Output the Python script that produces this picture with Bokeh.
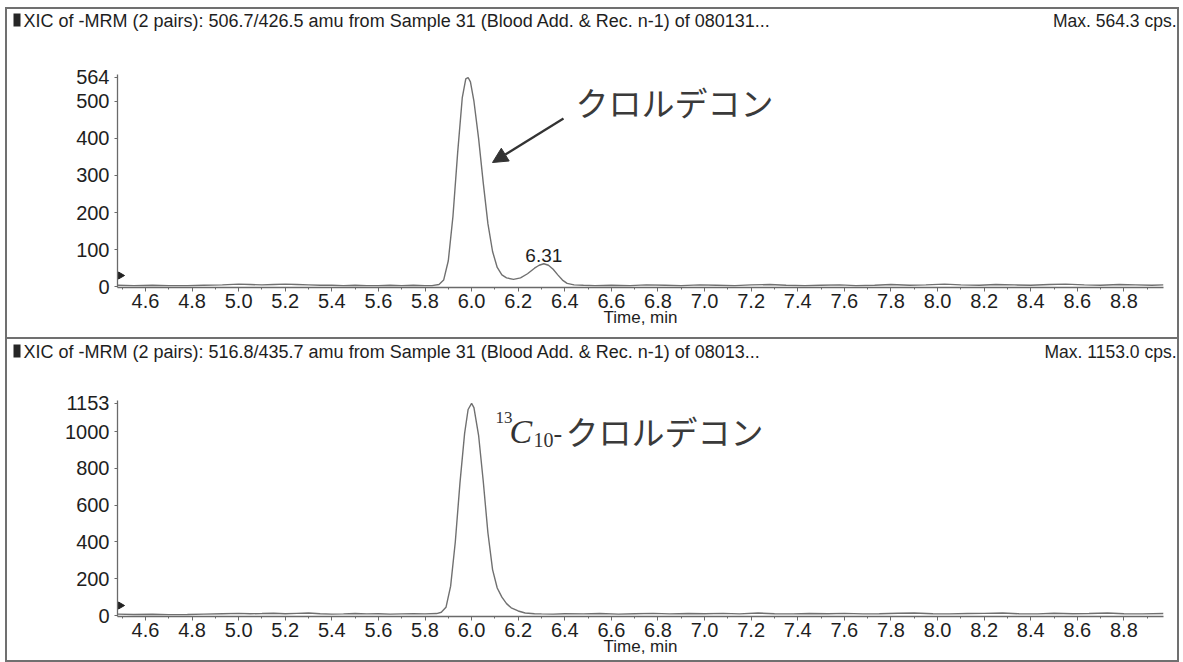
from bokeh.plotting import figure
from bokeh.layouts import column
from bokeh.models import (Range1d, FixedTicker, PrintfTickFormatter, Label, Arrow,
                          NormalHead, BoxAnnotation, ColumnDataSource)
from bokeh.embed import file_html
from bokeh.resources import INLINE

# ---- data -------------------------------------------------------------
time_ticks = [4.6, 4.8, 5.0, 5.2, 5.4, 5.6, 5.8, 6.0, 6.2, 6.4, 6.6, 6.8,
              7.0, 7.2, 7.4, 7.6, 7.8, 8.0, 8.2, 8.4, 8.6, 8.8]
time_minor = [4.5, 4.7, 4.9, 5.1, 5.3, 5.5, 5.7, 5.9, 6.1, 6.3, 6.5, 6.7,
              6.9, 7.1, 7.3, 7.5, 7.7, 7.9, 8.1, 8.3, 8.5, 8.7, 8.9]

# XIC 506.7/426.5 (chlordecone)
ana_time = [4.48, 4.55, 4.63, 4.70, 4.78, 4.85, 4.93, 5.00, 5.05, 5.10, 5.15,
            5.20, 5.25, 5.30, 5.35, 5.40, 5.45, 5.50, 5.55, 5.60, 5.65, 5.70,
            5.75, 5.80, 5.83, 5.86, 5.88, 5.90, 5.92, 5.94, 5.96, 5.975, 5.985,
            5.995, 6.01, 6.03, 6.05, 6.07, 6.09, 6.11, 6.13, 6.15, 6.18, 6.21,
            6.24, 6.27, 6.29, 6.31, 6.33, 6.35, 6.37, 6.39, 6.41, 6.44, 6.48,
            6.53, 6.60, 6.68, 6.75, 6.83, 6.90, 6.98, 7.05, 7.13, 7.20, 7.28,
            7.35, 7.43, 7.50, 7.58, 7.65, 7.73, 7.80, 7.88, 7.95, 8.03, 8.10,
            8.18, 8.25, 8.33, 8.40, 8.48, 8.55, 8.63, 8.70, 8.78, 8.85, 8.92,
            8.97]
ana_cps = [4, 3, 4, 3, 3, 4, 5, 7, 6, 5, 6,
           7, 6, 5, 4, 4, 3, 4, 3, 3, 4, 3,
           4, 3, 3, 6, 18, 70, 190, 360, 510, 560, 564,
           552, 500, 400, 280, 170, 95, 52, 32, 24, 20, 24,
           35, 50, 58, 62, 58, 47, 32, 18, 9, 5, 4,
           3, 4, 3, 5, 4, 3, 5, 4, 3, 5, 6,
           4, 3, 4, 5, 3, 4, 6, 4, 5, 7, 5,
           4, 6, 5, 4, 6, 7, 5, 4, 6, 5, 4,
           5]
ana_ticks = [0, 100, 200, 300, 400, 500, 564]
ana_max = 564.3
ana_peak2_rt = 6.31
ana_peak2_cps = 62

# XIC 516.8/435.7 (13C10-chlordecone)
ist_time = [4.48, 4.55, 4.63, 4.70, 4.78, 4.85, 4.93, 5.00, 5.05, 5.10, 5.15,
            5.20, 5.25, 5.30, 5.35, 5.40, 5.45, 5.50, 5.55, 5.60, 5.65, 5.70,
            5.75, 5.80, 5.85, 5.87, 5.89, 5.91, 5.93, 5.95, 5.97, 5.985, 6.00,
            6.01, 6.03, 6.05, 6.07, 6.09, 6.11, 6.13, 6.15, 6.17, 6.20, 6.23,
            6.27, 6.30, 6.35, 6.40, 6.48, 6.55, 6.63, 6.70, 6.78, 6.85, 6.93,
            7.00, 7.08, 7.15, 7.23, 7.30, 7.38, 7.45, 7.53, 7.60, 7.68, 7.75,
            7.83, 7.90, 7.98, 8.05, 8.13, 8.20, 8.28, 8.35, 8.43, 8.50, 8.58,
            8.65, 8.73, 8.80, 8.88, 8.97]
ist_cps = [8, 6, 7, 5, 6, 8, 10, 12, 10, 11, 13,
           10, 12, 14, 10, 8, 9, 11, 9, 10, 8, 9,
           10, 9, 11, 18, 45, 160, 400, 720, 990, 1120, 1153,
           1130, 980, 730, 450, 250, 150, 100, 65, 42, 25, 14,
           10, 9, 8, 10, 9, 11, 8, 10, 12, 9, 11,
           10, 12, 9, 14, 10, 9, 11, 10, 12, 9, 10,
           13, 14, 10, 9, 11, 12, 14, 10, 9, 13, 10,
           11, 14, 10, 9, 11]
ist_ticks = [0, 200, 400, 600, 800, 1000, 1153]
ist_max = 1153.0

title_top = "XIC of -MRM (2 pairs): 506.7/426.5 amu from Sample 31 (Blood Add. & Rec. n-1) of 080131..."
title_bot = "XIC of -MRM (2 pairs): 516.8/435.7 amu from Sample 31 (Blood Add. & Rec. n-1) of 08013..."
name_jp = "クロルデコン"

# ---- layout constants (pixels) ----------------------------------------
INNER_W = 1170          # width inside the panel border
HDR_H = 28              # header strip height
X_LEFT, X_RIGHT = 117, 1163   # plot frame, page pixels
BOX_X = 7               # page x of the inner edge of the border
T0, T1 = 4.48, 8.97
SANS = "Liberation Sans"
SERIF = "Liberation Serif"
JP = "Noto Sans CJK JP"
INK = "#1e1e1e"
AXIS = "#6a6a6a"
TRACE = "#707070"
BORDER = "2px solid #707070"


def xd(px):
    """page x pixel -> retention time"""
    return T0 + (px - X_LEFT) * (T1 - T0) / (X_RIGHT - X_LEFT)


def header(title, max_text, mid):
    """title strip; `mid` is the text centre line inside the strip"""
    h = figure(width=INNER_W, height=HDR_H, x_range=Range1d(0, INNER_W),
               y_range=Range1d(HDR_H, 0), min_border=0, title=None,
               x_axis_type=None, y_axis_type=None, output_backend="svg",
               toolbar_location=None, frame_align=False)
    h.outline_line_color = None
    h.background_fill_color = "white"
    h.border_fill_color = "white"
    h.add_layout(BoxAnnotation(left=6, right=13, top=mid - 7, bottom=mid + 6,
                               fill_color="#262626", fill_alpha=1, line_color=None))
    h.add_layout(Label(x=16, y=mid, text=title, text_font=SANS,
                       text_font_size="18px", text_color=INK,
                       text_baseline="middle", text_align="left"))
    h.add_layout(Label(x=INNER_W - 1, y=mid, text=max_text, text_font=SANS,
                       text_font_size="17.5px", text_color=INK,
                       text_baseline="middle", text_align="right"))
    return h


def chart(height, ftop, fbot, y0, y1, yticks, t, c):
    p = figure(width=INNER_W, height=height, x_range=Range1d(T0, T1),
               y_range=Range1d(y0, y1), output_backend="svg", title=None,
               toolbar_location=None, min_border_left=X_LEFT - BOX_X,
               min_border_right=BOX_X + INNER_W - X_RIGHT,
               min_border_top=ftop, min_border_bottom=height - fbot)
    p.outline_line_color = None
    p.xgrid.visible = False
    p.ygrid.visible = False
    p.background_fill_color = "white"
    p.border_fill_color = "white"

    xa, ya = p.xaxis[0], p.yaxis[0]
    xa.ticker = FixedTicker(ticks=time_ticks, minor_ticks=time_minor)
    xa.formatter = PrintfTickFormatter(format="%.1f")
    ya.ticker = FixedTicker(ticks=yticks)
    for ax in (xa, ya):
        ax.axis_line_color = AXIS
        ax.axis_line_width = 1.3
        ax.major_tick_line_color = AXIS
        ax.minor_tick_line_color = AXIS
        ax.major_tick_in = 0
        ax.minor_tick_in = 0
        ax.major_label_text_font = SANS
        ax.major_label_text_font_size = "20px"
        ax.major_label_text_color = INK
    xa.major_tick_out = 4
    xa.minor_tick_out = 2
    xa.major_label_standoff = 2
    xa.axis_label = "Time, min"
    xa.axis_label_text_font = SANS
    xa.axis_label_text_font_size = "17px"
    xa.axis_label_text_font_style = "normal"
    xa.axis_label_text_color = INK
    xa.axis_label_standoff = -3
    ya.major_tick_out = 3
    ya.minor_tick_out = 0
    ya.major_label_standoff = 5

    src = ColumnDataSource(dict(t=t, c=c))
    p.line("t", "c", source=src, line_color=TRACE, line_width=1.4)
    return p


# ---- top panel: chlordecone -------------------------------------------
TOP_Y = 9 + HDR_H          # page y of the chart strip
T_FT, T_FB = 74, 287       # page y of the frame top / bottom
T_Y0, T_Y1 = -2, 572


def yd_top(py):
    return T_Y0 + (T_FB - py) * (T_Y1 - T_Y0) / (T_FB - T_FT)


hdr_top = header(title_top, f"Max. {ana_max:.1f} cps.", 11)
top = chart(337 - TOP_Y, T_FT - TOP_Y, T_FB - TOP_Y, T_Y0, T_Y1, ana_ticks, ana_time, ana_cps)
top.add_layout(Label(x=xd(575), y=yd_top(101), text=name_jp, text_font=JP,
                     text_font_size="33px", text_color="#3a3a3a",
                     text_baseline="middle", text_align="left"))
top.add_layout(Arrow(x_start=xd(563), y_start=yd_top(118), x_end=xd(492), y_end=yd_top(162),
                     line_color="#333", line_width=2.2,
                     end=NormalHead(size=15, fill_color="#333", line_color="#333")))
top.add_layout(Label(x=ana_peak2_rt, y=ana_peak2_cps, y_offset=8, text=f"{ana_peak2_rt:.2f}",
                     text_font=SANS, text_font_size="19px", text_color=INK,
                     text_align="center", text_baseline="middle"))
top.scatter([xd(120)], [yd_top(275)], marker="triangle", angle=-1.5708, size=7,
            fill_color="#222", line_color="#222")

# ---- bottom panel: 13C10-chlordecone ----------------------------------
BOT_Y = 339 + HDR_H
B_FT, B_FB = 400, 616
B_Y0, B_Y1 = -5, 1169


def yd_bot(py):
    return B_Y0 + (B_FB - py) * (B_Y1 - B_Y0) / (B_FB - B_FT)


hdr_bot = header(title_bot, f"Max. {ist_max:.1f} cps.", 12)
bot = chart(660 - BOT_Y, B_FT - BOT_Y, B_FB - BOT_Y, B_Y0, B_Y1, ist_ticks, ist_time, ist_cps)
bot.add_layout(Label(x=xd(495), y=yd_bot(417), text="13", text_font=SERIF,
                     text_font_size="17px", text_color="#333", text_baseline="middle"))
bot.add_layout(Label(x=xd(509), y=yd_bot(431), text="C", text_font=SERIF,
                     text_font_style="italic", text_font_size="34px",
                     text_color="#333", text_baseline="middle"))
bot.add_layout(Label(x=xd(533), y=yd_bot(439), text="10", text_font=SERIF,
                     text_font_size="20px", text_color="#333", text_baseline="middle"))
bot.add_layout(Label(x=xd(553), y=yd_bot(433), text="-", text_font=SERIF,
                     text_font_size="26px", text_color="#333", text_baseline="middle"))
bot.add_layout(Label(x=xd(565), y=yd_bot(430), text=name_jp, text_font=JP,
                     text_font_size="33px", text_color="#3a3a3a",
                     text_baseline="middle", text_align="left"))
bot.scatter([xd(120)], [yd_bot(605)], marker="triangle", angle=-1.5708, size=7,
            fill_color="#222", line_color="#222")

top_box = column(hdr_top, top, spacing=0, margin=(7, 0, 0, 5),
                 styles={"border": BORDER})
bot_box = column(hdr_bot, bot, spacing=0, margin=(0, 0, 0, 5),
                 styles={"border": BORDER, "border-top": "none"})
layout = column(top_box, bot_box, spacing=0)
open("out.html", "w").write(file_html(layout, INLINE))
